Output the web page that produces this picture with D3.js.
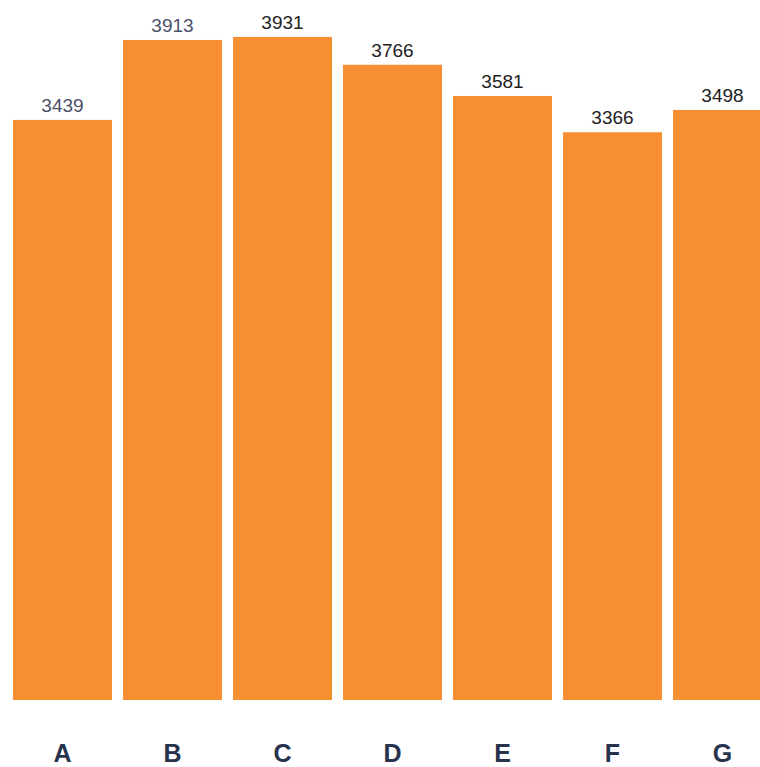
<!DOCTYPE html>
<html lang="en">
<head>
  <meta charset="UTF-8" />
  <script src="https://d3js.org/d3.v7.min.js"></script>
  <style>
    body { margin: 0; background: #fff; }
    .value { font-family: "Liberation Sans", Arial, sans-serif; font-size: 19px; }
    .cat { font-family: "Liberation Sans", Arial, sans-serif; font-size: 25px; font-weight: bold; fill: #27324d; }
  </style>
</head>
<body>
  <script>
    var categories = ["A", "B", "C", "D", "E", "F", "G"];
    var values = [3439, 3913, 3931, 3766, 3581, 3366, 3498];
    var labelColors = ["#4a5068", "#4a5068", "#222", "#222", "#222", "#222", "#222"];

    var width = 760, height = 767;

    var xScale = d3.scaleBand()
      .domain(categories)
      .range([7.5, 777.5])
      .paddingInner(0.1)
      .paddingOuter(0.05);

    var yScale = d3.scaleLinear()
      .domain([0, 4150])
      .range([700, 0]);

    var svg = d3.select("body").append("svg")
      .attr("width", width)
      .attr("height", height);

    var data = categories.map(function (c, i) {
      return { cat: c, value: values[i], color: labelColors[i] };
    });

    svg.selectAll("rect")
      .data(data)
      .enter()
      .append("rect")
      .attr("x", (d) => xScale(d.cat))
      .attr("y", (d) => yScale(d.value))
      .attr("width", xScale.bandwidth())
      .attr("height", (d) => yScale(0) - yScale(d.value))
      .style("fill", "#f68f31");

    svg.selectAll("text.value")
      .data(data)
      .enter()
      .append("text")
      .attr("class", "value")
      .attr("x", (d) => xScale(d.cat) + xScale.bandwidth() / 2)
      .attr("y", (d) => yScale(d.value) - 8)
      .attr("text-anchor", "middle")
      .style("fill", (d) => d.color)
      .text((d) => d.value);

    // category labels along the bottom
    var xAxis = d3.axisBottom(xScale).tickSize(0).tickPadding(0);
    var ax = svg.append("g")
      .attr("transform", "translate(0,744)")
      .call(xAxis);
    ax.select(".domain").remove();
    ax.selectAll("text")
      .attr("class", "cat")
      .attr("dy", "0.71em")
      .attr("font-family", null)
      .attr("font-size", null);
  </script>
</body>
</html>
